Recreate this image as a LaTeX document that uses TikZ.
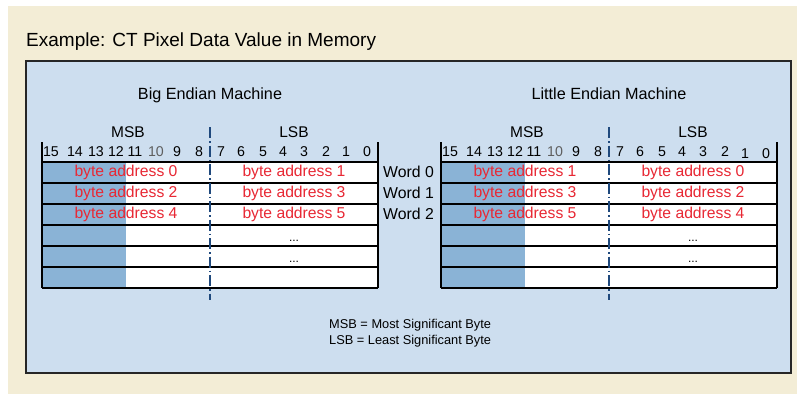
\documentclass[tikz,border=0pt]{standalone}
\usepackage{fontspec}
\setmainfont{Liberation Sans}
\definecolor{cream}{RGB}{243,237,214}
\definecolor{panelblue}{RGB}{205,222,239}
\definecolor{darkfill}{RGB}{138,179,214}
\definecolor{addrred}{RGB}{232,40,52}
\definecolor{dashblue}{RGB}{31,73,125}
\definecolor{bitgray}{RGB}{95,95,95}
\tikzset{
  tbl/.style={black, line width=1.3pt},
  dashline/.style={dashblue, line width=1.2pt, dash pattern=on 11pt off 3pt on 1.5pt off 3pt},
  txt/.style={inner sep=0pt, anchor=base},
  bit/.style={txt, font=\fontsize{14.2}{16}\selectfont},
  cell/.style={txt, text=addrred, font=\fontsize{15.7}{18}\selectfont},
  hdr/.style={txt, font=\fontsize{15.5}{18}\selectfont},
  dots/.style={txt, font=\fontsize{12}{14}\selectfont},
  word/.style={txt, anchor=base west, font=\fontsize{15.8}{18}\selectfont},
  legend/.style={txt, anchor=base west, font=\fontsize{12.8}{15}\selectfont},
}
\newcommand{\memtable}[8]{%
  \begin{scope}[shift={(#1,0)}, name prefix=#2-]
    \fill[darkfill] (0,162) rectangle (84,288);
    \fill[white] (84,162) rectangle (336,288);
    \foreach \y in {162,183,204,225,246,267,288} \draw[tbl] (0,\y) -- (336,\y);
    \draw[tbl] (0,142) -- (0,288);
    \draw[tbl] (336,142) -- (336,288);
    \node[txt, font=\fontsize{16.2}{19}\selectfont] (machine) at (168,99) {#3};
    \node[hdr] (msb) at (86,137.7) {MSB};
    \node[hdr] (lsb) at (252,137.7) {LSB};
    \foreach \b/\x in {15/9,14/33,13/54,12/74,11/93,9/135,8/157,7/179,6/199,5/221,4/241,3/262,2/284}
      \node[bit] (b\b) at (\x,156.5) {\b};
    \node[bit, text=bitgray] (b10) at (114,156.5) {10};
    \node[bit] (b1) at (304,156.5+#8) {1};
    \node[bit] (b0) at (325,156.5+#8) {0};
    #4
    \node[dots] (d1) at (252,241) {...};
    \node[dots] (d2) at (252,262) {...};
    \coordinate (dtop) at (168,127);
    \coordinate (dbot) at (168,300);
    \draw[dashline] (dtop) -- (dbot);
  \end{scope}}
\begin{document}
\begin{tikzpicture}[x=1pt,y=-1pt]
\useasboundingbox (0,0) rectangle (797,394);
\fill[cream] (8,6) rectangle (797,394);
\fill[black!35] (26.5,61.5) rectangle (792,373.5);
\node[draw=black!85, line width=1.6pt, fill=panelblue, minimum width=765pt, minimum height=312pt, inner sep=0pt, anchor=north west] (panel) at (25,60) {};
\node[txt, anchor=base west, font=\fontsize{19}{22}\selectfont] (title) at (26,46) {Example: CT Pixel Data Value in Memory};
\memtable{42}{L}{Big Endian Machine}{%
  \node[cell] (a0) at (84,176.7) {byte address 0};
  \node[cell] (a1) at (252,176.7) {byte address 1};
  \node[cell] (a2) at (84,197.7) {byte address 2};
  \node[cell] (a3) at (252,197.7) {byte address 3};
  \node[cell] (a4) at (84,218.7) {byte address 4};
  \node[cell] (a5) at (252,218.7) {byte address 5};
}{}{}{}{0}
\memtable{441}{R}{Little Endian Machine}{%
  \node[cell] (a1) at (84,176.7) {byte address 1};
  \node[cell] (a0) at (252,176.7) {byte address 0};
  \node[cell] (a3) at (84,197.7) {byte address 3};
  \node[cell] (a2) at (252,197.7) {byte address 2};
  \node[cell] (a5) at (84,218.7) {byte address 5};
  \node[cell] (a4) at (252,218.7) {byte address 4};
}{}{}{}{2}
\node[word] (w0) at (383,177) {Word 0};
\node[word] (w1) at (383,198) {Word 1};
\node[word] (w2) at (383,219) {Word 2};
\node[legend] (leg1) at (329,328.3) {MSB = Most Significant Byte};
\node[legend] (leg2) at (329,344.3) {LSB = Least Significant Byte};
\end{tikzpicture}
\end{document}
